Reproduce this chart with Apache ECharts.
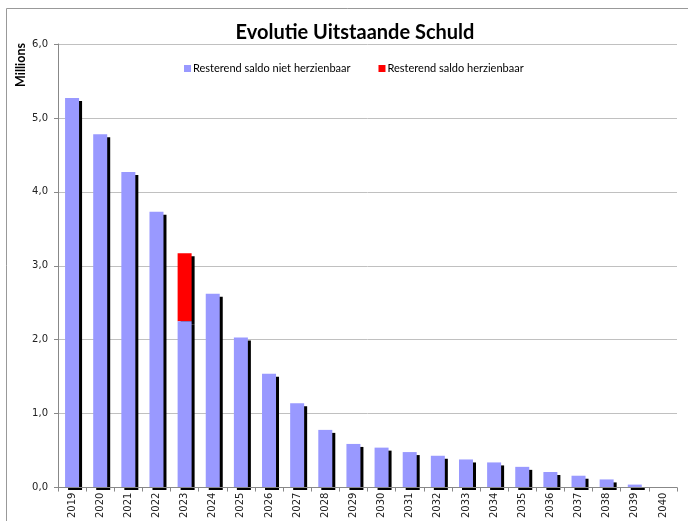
<!DOCTYPE html>
<html><head><meta charset="utf-8">
<script src="https://cdn.jsdelivr.net/npm/echarts@6/dist/echarts.min.js"></script>
<style>html,body{margin:0;padding:0;background:#fff}#c{width:688px;height:521px}</style>
</head><body><div id="c"></div>
<script>
const categories = ['2019','2020','2021','2022','2023','2024','2025','2026','2027','2028','2029','2030','2031','2032','2033','2034','2035','2036','2037','2038','2039','2040'];
const nietHerzienbaar = [5.27,4.78,4.27,3.73,2.25,2.62,2.03,1.54,1.14,0.78,0.59,0.54,0.48,0.43,0.38,0.34,0.28,0.21,0.16,0.11,0.04,0];
const herzienbaar = [0,0,0,0,0.92,0,0,0,0,0,0,0,0,0,0,0,0,0,0,0,0,0];
const yTicks = [0,1,2,3,4,5,6];

const chart = echarts.init(document.getElementById('c'));
const shadow = {shadowColor:'#000', shadowBlur:0, shadowOffsetX:3, shadowOffsetY:3};
const clean = arr => arr.map(v => v === 0 ? '-' : v);
chart.setOption({
  animation:false,
  title:{text:'Evolutie Uitstaande Schuld', left:350, textAlign:'center', top:18,
    textStyle:{fontFamily:'Lato', fontWeight:'bold', fontSize:20, color:'#000'}},
  legend:{top:58, left:179, itemWidth:7, itemHeight:7, itemGap:28, icon:'rect',
    textStyle:{fontFamily:'Lato', fontSize:11, color:'#000', padding:[0,0,0,-3]},
    data:['Resterend saldo niet herzienbaar','Resterend saldo herzienbaar']},
  grid:{left:58, right:11, top:44, bottom:30, containLabel:false},
  xAxis:{type:'category', data:categories, zlevel:1, z:10,
    axisLine:{lineStyle:{color:'#888', width:1}},
    axisTick:{show:true, alignWithLabel:false, length:4, lineStyle:{color:'#888'}},
    axisLabel:{rotate:90, interval:0, fontFamily:'DejaVu Sans', fontSize:10, color:'#222', margin:5}},
  yAxis:{type:'value', min:yTicks[0], max:yTicks[yTicks.length-1], interval:1,
    axisLine:{show:true, lineStyle:{color:'#888'}},
    axisTick:{show:true, length:4, lineStyle:{color:'#888'}},
    splitLine:{lineStyle:{color:'#c0c0c0', width:1}},
    axisLabel:{fontFamily:'DejaVu Sans', fontSize:10, color:'#222', margin:10,
      formatter:v=>v.toFixed(1).replace('.',',')}},
  graphic:[
    {type:'rect', shape:{x:6.5,y:8.5,width:700,height:530}, style:{fill:null, stroke:'#999', lineWidth:1}, silent:true},
    {type:'rect', zlevel:1, z:1, shape:{x:59,y:490,width:622,height:7}, style:{fill:'#fff'}, silent:true},
    {type:'text', x:21, y:65, rotation:Math.PI/2, style:{text:'Millions', fontFamily:'Lato', fontWeight:'bold', fontSize:12.5, fill:'#000', align:'center', verticalAlign:'middle'}}
  ],
  series:[
    {name:'Resterend saldo niet herzienbaar', type:'bar', stack:'s', data:clean(nietHerzienbaar), barWidth:14, z:3,
      itemStyle:Object.assign({color:'#9999ff'}, shadow)},
    {name:'Resterend saldo herzienbaar', type:'bar', stack:'s', data:clean(herzienbaar), barWidth:14, z:2,
      itemStyle:Object.assign({color:'#ff0000'}, shadow)}
  ]
});
</script></body></html>
